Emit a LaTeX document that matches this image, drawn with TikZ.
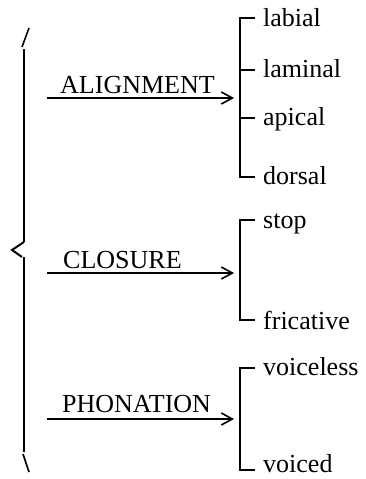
\documentclass[tikz,border=0pt]{standalone}
\usepackage{fontspec}
\setmainfont{Liberation Serif}
\usetikzlibrary{arrows.meta}
\begin{document}
\begin{tikzpicture}[x=1pt,y=-1pt,
  txt/.style={font=\fontsize{26}{30}\selectfont, inner sep=0pt, anchor=base west},
  cat/.style={txt},
  val/.style={txt},
  feat/.style={line width=2pt, -{Straight Barb[length=11pt,width=12pt,line width=1.6pt]}},
  brk/.style={line width=2.5pt},
  brace/.style={line width=2.6pt}]
\useasboundingbox (0,0) rectangle (365,479);

% outer brace on the left
\coordinate (bt1) at (29,28);
\coordinate (bt2) at (22,47);
\coordinate (bv1) at (24,49);
\coordinate (bv2) at (24,242);
\coordinate (bp)  at (12,250);
\coordinate (bv3) at (22,257);
\coordinate (bv4) at (24,257);
\coordinate (bv5) at (24,452);
\coordinate (bb1) at (23,454);
\coordinate (bb2) at (29,472);
\draw[line width=1.6pt] (bt1) -- (bt2);
\draw[brace] (bv1) -- (bv2);
\draw[line width=2pt] (bv2) -- (bp) -- (bv3);
\draw[brace] (bv4) -- (bv5);
\draw[line width=1.6pt] (bb1) -- (bb2);

% feature names with their arrows
\node[cat] (align) at (60,93) {ALIGNMENT};
\node[cat] (clos)  at (63,268) {CLOSURE};
\node[cat] (phon)  at (62,412) {PHONATION};

\coordinate (a0) at (47,98);   \coordinate (a1) at (240,98);
\coordinate (c0) at (47,273);  \coordinate (c1) at (240,273);
\coordinate (p0) at (47,419);  \coordinate (p1) at (240,419);
\draw[feat, shorten >=6pt] (a0) -- (a1);
\draw[feat, shorten >=6pt] (c0) -- (c1);
\draw[feat, shorten >=6pt] (p0) -- (p1);

% bracket of alignment values
\coordinate (A1) at (240,18);  \coordinate (A1e) at (255,18);
\coordinate (A2) at (240,70);  \coordinate (A2e) at (255,70);
\coordinate (A3) at (240,118); \coordinate (A3e) at (255,118);
\coordinate (A4) at (240,177); \coordinate (A4e) at (255,177);
\draw[brk] (A1e) -- (A1) -- (A4) -- (A4e);
\draw[brk] (A2) -- (A2e);
\draw[brk] (A3) -- (A3e);
\node[val] (labial)  at (263,26)  {labial};
\node[val] (laminal) at (263,77)  {laminal};
\node[val] (apical)  at (263,125) {apical};
\node[val] (dorsal)  at (263,184) {dorsal};

% bracket of closure values
\coordinate (C1) at (240,220); \coordinate (C1e) at (255,220);
\coordinate (C2) at (240,320); \coordinate (C2e) at (255,320);
\draw[brk] (C1e) -- (C1) -- (C2) -- (C2e);
\node[val] (stop) at (263,228) {stop};
\node[val] (fric) at (263,329) {fricative};

% bracket of phonation values
\coordinate (P1) at (240,368); \coordinate (P1e) at (255,368);
\coordinate (P2) at (240,470); \coordinate (P2e) at (255,470);
\draw[brk] (P1e) -- (P1) -- (P2) -- (P2e);
\node[val] (vl) at (263,375) {voiceless};
\node[val] (vd) at (263,472) {voiced};
\end{tikzpicture}
\end{document}
